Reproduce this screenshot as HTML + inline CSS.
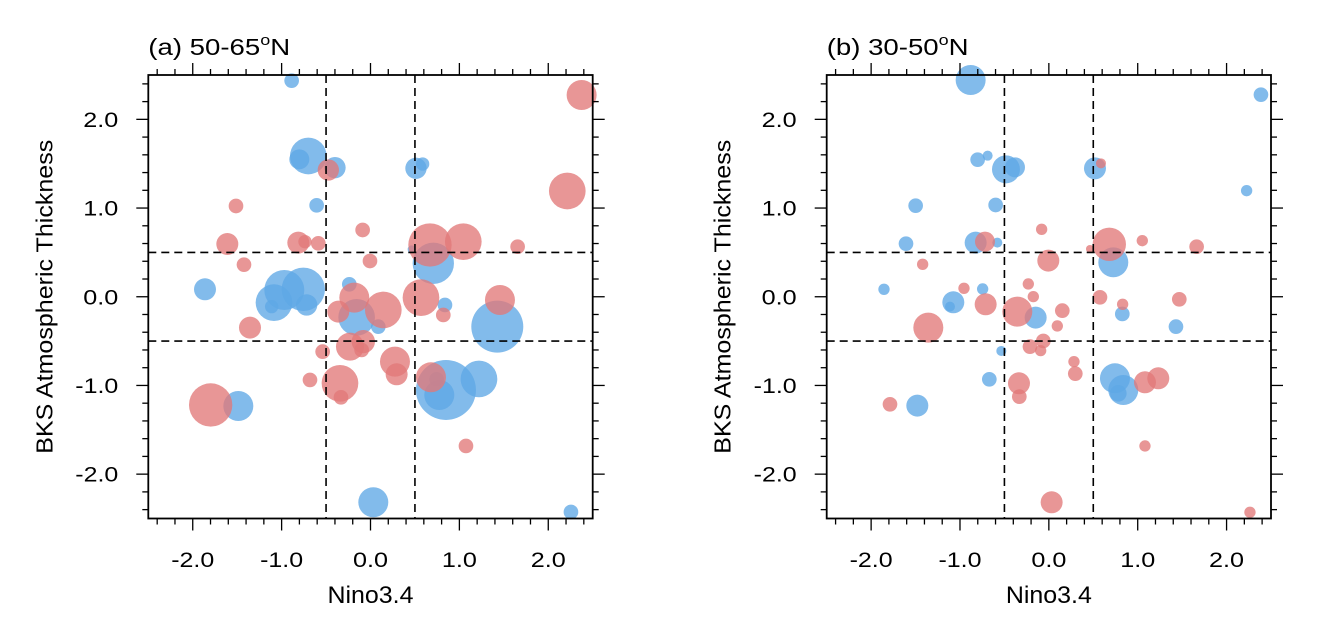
<!DOCTYPE html>
<html><head><meta charset="utf-8"><style>
body{margin:0;background:#fff}
svg text{font-family:"Liberation Sans",sans-serif;fill:#000}
</style></head><body>
<svg id="s" width="1320" height="631" xmlns="http://www.w3.org/2000/svg"></svg>
<script>
const S=document.getElementById('s');let h='';
const A={blue:[[515,62,22],[565,288,55],[538,298,30],[645,323,32],[888,325,32],[908,312,20],[590,436,22],[255,688,33],[493,690,60],[550,688,65],[462,728,55],[560,735,32],[455,740,20],[688,673,22],[710,772,55],[775,800,22],[940,610,62],[875,568,12],[975,735,22],[1132,800,78],[978,990,90],[958,1005,45],[1077,957,55],[950,958,22],[355,1038,45],[760,1327,45],[1353,1356,22]],
red:[[1385,105,45],[1342,393,55],[625,330,32],[348,438,22],[728,510,22],[322,552,33],[535,548,33],[555,545,20],[595,550,22],[930,555,65],[1030,545,55],[1193,560,22],[372,614,22],[750,603,22],[703,713,45],[655,755,33],[790,750,55],[903,713,55],[970,765,22],[1140,720,45],[390,803,33],[690,860,42],[730,845,35],[725,870,22],[608,875,22],[825,905,45],[830,943,33],[570,960,22],[660,970,55],[663,1012,22],[933,952,45],[272,1035,65],[1038,1158,22]]};
const B={blue:[[512,60,45],[1383,104,22],[533,299,22],[563,287,15],[618,328,42],[645,322,30],[885,325,33],[347,437,22],[587,435,22],[318,551,22],[527,548,33],[592,548,15],[940,607,45],[1340,392,17],[252,688,17],[548,687,17],[460,727,33],[450,740,15],[707,773,33],[967,762,22],[1128,800,22],[604,873,15],[568,958,22],[945,955,45],[970,990,45],[955,1000,25],[352,1037,33]],
red:[[903,310,15],[725,508,17],[928,553,50],[870,567,12],[1027,542,17],[1190,560,22],[555,545,30],[745,602,33],[368,613,17],[492,685,17],[685,672,17],[700,710,17],[557,733,33],[652,755,45],[787,752,22],[772,798,17],[385,803,45],[900,712,22],[968,733,17],[1138,718,22],[690,860,22],[730,843,22],[722,872,17],[822,905,17],[826,941,22],[657,970,33],[658,1010,22],[1035,967,33],[1075,955,33],[270,1033,22],[1035,1158,17],[755,1327,33],[1350,1357,17]]};
function panel(ox,L,R,D,title){
 const T=75,Bm=518.5,sx=(R-L)/5,sy=(Bm-T)/5;
 const X=v=>L+(v+2.5)*sx,Y=v=>T+(2.5-v)*sy;
 h+=`<g transform="translate(${ox},60) scale(0.3333)">`;
 const all=[...D.blue.map(c=>[...c,'#5fa8e6']),...D.red.map(c=>[...c,'#e27878'])];
 for(const c of all)h+=`<circle cx="${c[0]}" cy="${c[1]}" r="${c[2]}" fill="${c[3]}" fill-opacity="0.78"/>`;
 h+='</g>';
 h+=`<g stroke="#000" stroke-width="1.6" stroke-dasharray="8,5" fill="none">`;
 for(const v of[-0.5,0.5]){h+=`<line x1="${X(v)}" y1="${T}" x2="${X(v)}" y2="${Bm}"/><line x1="${L}" y1="${Y(v)}" x2="${R}" y2="${Y(v)}"/>`;}
 h+='</g>';
 h+=`<rect x="${L}" y="${T}" width="${R-L}" height="${Bm-T}" fill="none" stroke="#000" stroke-width="1.8"/>`;
 h+='<g stroke="#000" stroke-width="1.3">';
 for(let i=-12;i<=12;i++){const v=i/5;const big=(i%5==0);const len=big?12:6;
  h+=`<line x1="${X(v)}" y1="${Bm}" x2="${X(v)}" y2="${Bm+len}"/><line x1="${X(v)}" y1="${T}" x2="${X(v)}" y2="${T-len}"/>`;
  h+=`<line x1="${L}" y1="${Y(v)}" x2="${L-len}" y2="${Y(v)}"/><line x1="${R}" y1="${Y(v)}" x2="${R+len}" y2="${Y(v)}"/>`;}
 h+='</g>';
 for(const v of[-2,-1,0,1,2]){const s=v.toFixed(1);const w=v<0?43:35;
  h+=`<text x="${X(v)-w/2}" y="567" font-size="21" textLength="${w}" lengthAdjust="spacingAndGlyphs">${s}</text>`;
  h+=`<text x="${L-30-w}" y="${Y(v)+7.5}" font-size="21" textLength="${w}" lengthAdjust="spacingAndGlyphs">${s}</text>`;}
 h+=`<text x="${(L+R)/2-43}" y="603" font-size="24" textLength="86" lengthAdjust="spacingAndGlyphs">Nino3.4</text>`;
 h+=`<text transform="translate(${L-96},${(T+Bm)/2+157}) rotate(-90)" font-size="23" textLength="314" lengthAdjust="spacingAndGlyphs">BKS Atmospheric Thickness</text>`;
 h+=`<text transform="translate(${L},55) scale(1.2,1)" font-size="23">${title}<tspan font-size="15" dy="-10">o</tspan><tspan dy="10">N</tspan></text>`;
}
panel(120,148.3,592.7,A,'(a) 50-65');
panel(800,826.7,1271,B,'(b) 30-50');
S.innerHTML=h;
</script>
</body></html>
